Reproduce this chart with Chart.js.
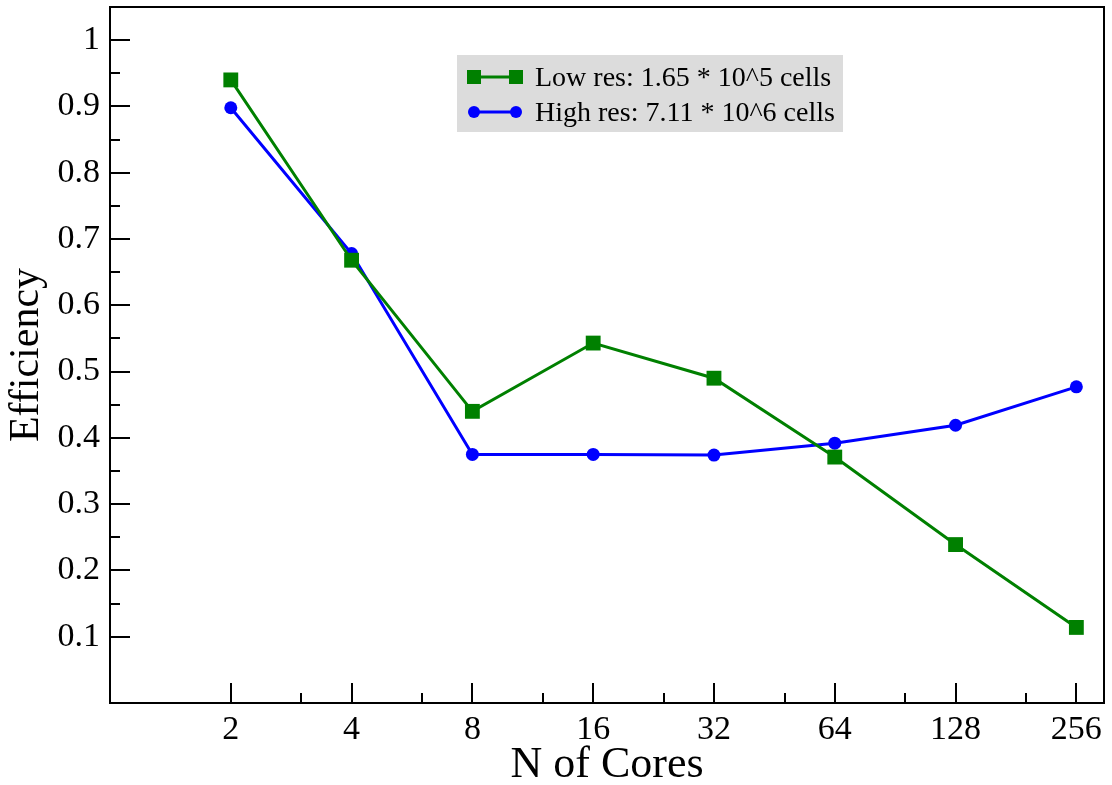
<!DOCTYPE html>
<html>
<head>
<meta charset="utf-8">
<script src="https://cdn.jsdelivr.net/npm/chart.js@4.4.0/dist/chart.umd.min.js"></script>
<style>
  html, body { margin: 0; padding: 0; background: #fff; }
  #wrap { width: 1112px; height: 785px; }
</style>
</head>
<body>
<div id="wrap"><canvas id="grafico" width="1112" height="785"></canvas></div>
<script>
// --- DADOS ---
const cores = [2, 4, 8, 16, 32, 64, 128, 256];
const lowRes = [0.940, 0.668, 0.440, 0.543, 0.490, 0.371, 0.239, 0.114];
const highRes = [0.898, 0.678, 0.375, 0.375, 0.374, 0.392, 0.419, 0.477];
const xMinorTicks = [3, 6, 12, 24, 48, 96, 192];
const yTicks = [0.1, 0.2, 0.3, 0.4, 0.5, 0.6, 0.7, 0.8, 0.9, 1];
const yTickLabels = ['0.1', '0.2', '0.3', '0.4', '0.5', '0.6', '0.7', '0.8', '0.9', '1'];
const yMinorTicks = [0.15, 0.25, 0.35, 0.45, 0.55, 0.65, 0.75, 0.85, 0.95];
const lowLabel = 'Low res: 1.65 * 10^5 cells';
const highLabel = 'High res: 7.11 * 10^6 cells';

const VERDE = '#008000';
const AZUL = '#0000ff';
const FONTE = "'Liberation Serif', 'Times New Roman', serif";

Chart.defaults.font.family = FONTE;
Chart.defaults.color = '#000';

// ticks para dentro + moldura
const molduraPlugin = {
    id: 'moldura',
    beforeDatasetsDraw(chart) {
        const { ctx, chartArea: a, scales: { x, y } } = chart;
        ctx.save();
        ctx.strokeStyle = '#000';
        ctx.lineWidth = 2;
        ctx.beginPath();
        cores.forEach(v => {
            const px = Math.round(x.getPixelForValue(v));
            ctx.moveTo(px, a.bottom); ctx.lineTo(px, a.bottom - 20);
        });
        xMinorTicks.forEach(v => {
            const px = Math.round(x.getPixelForValue(v));
            ctx.moveTo(px, a.bottom); ctx.lineTo(px, a.bottom - 10);
        });
        yTicks.forEach(v => {
            const py = Math.round(y.getPixelForValue(v));
            ctx.moveTo(a.left, py); ctx.lineTo(a.left + 20, py);
        });
        yMinorTicks.forEach(v => {
            const py = Math.round(y.getPixelForValue(v));
            ctx.moveTo(a.left, py); ctx.lineTo(a.left + 10, py);
        });
        ctx.stroke();
        ctx.strokeRect(a.left, a.top, a.right - a.left, a.bottom - a.top);
        ctx.restore();
    }
};

// legenda dentro da area do grafico
const legendaPlugin = {
    id: 'legendaInterna',
    afterDraw(chart) {
        const { ctx, chartArea: a } = chart;
        const bx = a.left + 347, by = a.top + 48;
        ctx.save();
        ctx.fillStyle = '#dcdcdc';
        ctx.fillRect(bx, by, 386, 77);
        ctx.font = '28px ' + FONTE;
        ctx.textBaseline = 'alphabetic';
        chart.data.datasets.forEach((ds, i) => {
            const cy = by + 22 + i * 35;
            const x0 = bx + 17, x1 = bx + 59;
            ctx.strokeStyle = ds.borderColor;
            ctx.fillStyle = ds.borderColor;
            ctx.lineWidth = 3;
            ctx.beginPath();
            ctx.moveTo(x0, cy); ctx.lineTo(x1, cy);
            ctx.stroke();
            [x0, x1].forEach(px => {
                if (ds.pointStyle === 'rect') {
                    ctx.fillRect(px - 7, cy - 7, 14, 14);
                } else {
                    ctx.beginPath();
                    ctx.arc(px, cy, 6, 0, Math.PI * 2);
                    ctx.fill();
                }
            });
            ctx.fillStyle = '#000';
            ctx.fillText(ds.label, bx + 78, cy + 9);
        });
        ctx.restore();
    }
};

const ctx = document.getElementById('grafico').getContext('2d');
new Chart(ctx, {
    type: 'line',
    data: {
        datasets: [
            {
                label: lowLabel,
                data: cores.map((c, i) => ({ x: c, y: lowRes[i] })),
                borderColor: VERDE,
                backgroundColor: VERDE,
                pointBackgroundColor: VERDE,
                pointStyle: 'rect',
                pointRadius: 10.5,
                pointBorderWidth: 0,
                borderWidth: 3,
                tension: 0,
                clip: false
            },
            {
                label: highLabel,
                data: cores.map((c, i) => ({ x: c, y: highRes[i] })),
                borderColor: AZUL,
                backgroundColor: AZUL,
                pointBackgroundColor: AZUL,
                pointStyle: 'circle',
                pointRadius: 6.5,
                pointBorderWidth: 0,
                borderWidth: 3,
                tension: 0,
                clip: false
            }
        ]
    },
    options: {
        responsive: false,
        animation: false,
        layout: { autoPadding: false, padding: { top: 7, right: 8, left: 0, bottom: 0 } },
        plugins: { legend: { display: false }, tooltip: { enabled: false } },
        scales: {
            x: {
                type: 'logarithmic',
                min: 1,
                max: 300,
                grid: { display: false, drawTicks: false, tickLength: 0 },
                border: { display: false },
                afterBuildTicks: s => { s.ticks = cores.map(v => ({ value: v })); },
                afterFit: s => { s.height = 82; s.paddingLeft = 0; s.paddingRight = 0; },
                ticks: {
                    autoSkip: false,
                    maxRotation: 0,
                    padding: 7,
                    font: { size: 34 },
                    callback: v => String(v)
                },
                title: {
                    display: true,
                    text: 'N of Cores',
                    font: { size: 44, lineHeight: 1 },
                    padding: { top: 0, bottom: -2 }
                }
            },
            y: {
                min: 0,
                max: 1.05,
                grid: { display: false, drawTicks: false, tickLength: 0 },
                border: { display: false },
                afterBuildTicks: s => { s.ticks = yTicks.map(v => ({ value: v })); },
                afterFit: s => { s.width = 110; s.paddingTop = 0; s.paddingBottom = 0; },
                ticks: {
                    autoSkip: false,
                    padding: 10,
                    font: { size: 34 },
                    callback: (v, i) => yTickLabels[i]
                },
                title: {
                    display: true,
                    text: 'Efficiency',
                    font: { size: 42, lineHeight: 1 },
                    padding: { top: 6, bottom: 0 }
                }
            }
        }
    },
    plugins: [molduraPlugin, legendaPlugin]
});
</script>
</body>
</html>
